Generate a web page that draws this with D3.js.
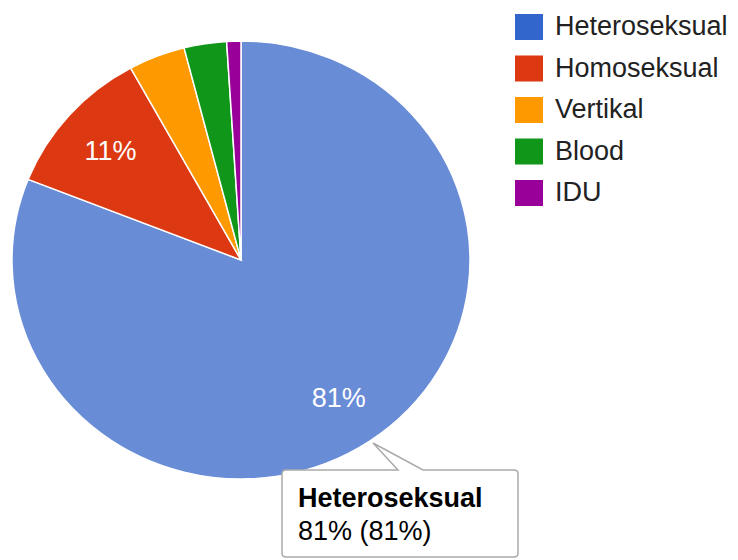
<!DOCTYPE html>
<html>
<head>
<meta charset="utf-8">
<script src="https://cdn.jsdelivr.net/npm/d3@7"></script>
<style>
  body { margin: 0; background: #fff; }
  svg { display: block; font-family: "Liberation Sans", Arial, sans-serif; }
</style>
</head>
<body>
<svg width="738" height="560"></svg>
<script>
const categories = ["Heteroseksual", "Homoseksual", "Vertikal", "Blood", "IDU"];
const values = [81, 11, 4, 3, 1];
const legendColors = ["#3366cc", "#dc3912", "#ff9900", "#109618", "#990099"];
const sliceColors = ["#688cd6", "#dc3912", "#ff9900", "#109618", "#990099"];

const svg = d3.select("svg");

const cx = 241, cy = 260, rx = 229, ry = 219;
const sy = ry / rx;

const data = categories.map((c, i) => ({ name: c, value: values[i], i: i }));
const total = d3.sum(values);

const pie = d3.pie().sort(null).value(d => d.value);
const arcs = pie(data);

const arc = d3.arc().innerRadius(0).outerRadius(rx);
const labelArc = d3.arc().innerRadius(rx * 0.76).outerRadius(rx * 0.76);

// slices (slightly elliptical like the source picture)
svg.append("g")
  .attr("transform", `translate(${cx},${cy}) scale(1,${sy})`)
  .selectAll("path")
  .data(arcs)
  .join("path")
    .attr("d", arc)
    .attr("fill", d => sliceColors[d.data.i])
    .attr("stroke", "#fff")
    .attr("stroke-width", 1.5);

// percent labels on large slices
svg.append("g")
  .selectAll("text")
  .data(arcs.filter(d => d.data.value / total >= 0.1))
  .join("text")
    .attr("x", d => cx + labelArc.centroid(d)[0])
    .attr("y", d => cy + labelArc.centroid(d)[1] * sy)
    .attr("dy", "0.36em")
    .attr("text-anchor", "middle")
    .attr("fill", "#fff")
    .attr("font-size", 27)
    .text(d => Math.round(d.data.value / total * 100) + "%");

// legend
const legend = svg.append("g")
  .selectAll("g")
  .data(data)
  .join("g")
    .attr("transform", (d, i) => `translate(515,${14 + i * 41.5})`);

legend.append("rect")
  .attr("width", 28)
  .attr("height", 26)
  .attr("fill", d => legendColors[d.i]);

legend.append("text")
  .attr("x", 40)
  .attr("y", 21)
  .attr("font-size", 27)
  .attr("fill", "#222")
  .text(d => d.name);

// tooltip for the hovered slice
const tip = data[0];
const x0 = 282, x1 = 518, y0 = 470, y1 = 557, r = 4;
const tipPath = `M${x0 + r},${y0} L398,${y0} L373,443 L423,${y0} L${x1 - r},${y0}
  Q${x1},${y0} ${x1},${y0 + r} L${x1},${y1 - r} Q${x1},${y1} ${x1 - r},${y1}
  L${x0 + r},${y1} Q${x0},${y1} ${x0},${y1 - r} L${x0},${y0 + r} Q${x0},${y0} ${x0 + r},${y0} Z`;

svg.append("path")
  .attr("d", tipPath)
  .attr("fill", "#fff")
  .attr("stroke", "#aaa")
  .attr("stroke-width", 1.5);

svg.append("text")
  .attr("x", 298)
  .attr("y", 507)
  .attr("font-size", 27)
  .attr("font-weight", "bold")
  .attr("fill", "#000")
  .text(tip.name);

const pct = Math.round(tip.value / total * 100);
svg.append("text")
  .attr("x", 298)
  .attr("y", 540)
  .attr("font-size", 27)
  .attr("fill", "#000")
  .text(`${tip.value}% (${pct}%)`);
</script>
</body>
</html>
